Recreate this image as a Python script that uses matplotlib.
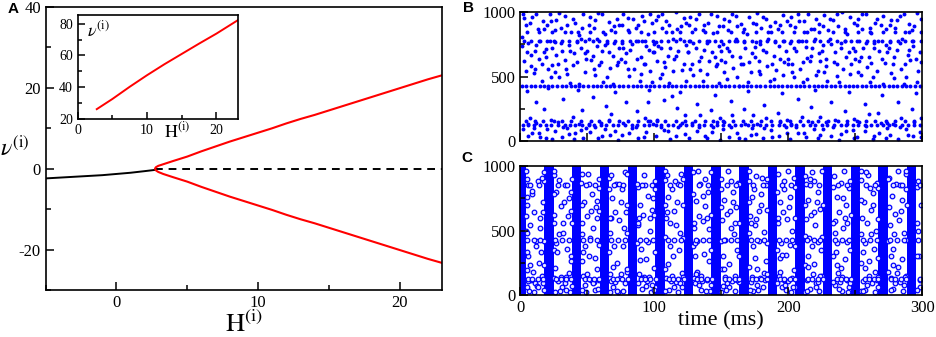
import numpy as np
import matplotlib
matplotlib.use('Agg')
import matplotlib.pyplot as plt
from matplotlib.ticker import MultipleLocator

plt.rcParams['font.family'] = ['Liberation Serif', 'DejaVu Serif']
plt.rcParams['mathtext.fontset'] = 'stix'
plt.rcParams['axes.unicode_minus'] = False

## PANEL A: bifurcation diagram
H_stable = [-5, -3, -1, 0, 1, 2, 2.72]
v_stable = [-2.4, -2.0, -1.6, -1.3, -1.0, -0.6, -0.3]
H_unstable = [2.72, 23]
v_unstable = [0, 0]
# red branch, lower half (read right to left) then upper half
H_lower = [23, 22, 21, 20, 19, 18, 17, 16, 15, 14, 13, 12, 11, 10, 9, 8, 7, 6, 5, 4, 3.3, 2.95, 2.78, 2.72]
v_lower = [-23.3, -22.3, -21.2, -20.1, -19.0, -17.9, -16.8, -15.7, -14.6, -13.5, -12.5, -11.4, -10.2,
           -9.1, -8.0, -6.9, -5.7, -4.5, -3.2, -2.1, -1.3, -0.8, -0.4, 0.0]
H_upper = [2.78, 2.95, 3.3, 4, 5, 6, 7, 8, 9, 10, 11, 12, 13, 14, 15, 16, 17, 18, 19, 20, 21, 22, 23]
v_upper = [0.35, 0.7, 1.1, 1.9, 3.0, 4.3, 5.5, 6.7, 7.8, 8.9, 10.0, 11.2, 12.3, 13.3, 14.4, 15.5, 16.6,
           17.7, 18.8, 19.9, 21.0, 22.1, 23.1]

# inset: rate vs H
H_inset = [2.75, 5, 7.5, 10, 12.5, 15, 17.5, 20, 23.1]
nu_inset = [26.2, 32.6, 40.3, 47.6, 54.5, 61.0, 67.5, 73.8, 82.3]

## PANEL B: asynchronous raster (time ms, neuron index)
row_425 = [1.5, 4.5, 8, 11, 14.5, 18, 21, 24, 27.5, 31, 34, 37.5, 41, 44, 47, 50.5, 54, 57, 60.5, 64, 67,
           70, 73.5, 77, 80, 84, 87, 90, 93.5, 97, 100, 103.5, 107, 110, 113, 116.5, 120, 123, 126.5, 130,
           133, 136, 139.5, 143, 146, 150, 153, 156, 159.5, 163, 166, 169, 172.5, 176, 179, 182.5, 186,
           189, 192, 195.5, 199, 202, 206, 209, 212, 215.5, 219, 222, 225, 228.5, 232, 235, 238.5, 242,
           245, 248, 251.5, 255, 258, 262, 265, 268, 271.5, 275, 278, 281, 284.5, 288, 291, 294.5, 298]
row_121 = [2, 6, 10, 15, 19, 23, 28, 33, 37, 41, 46, 51, 55, 60, 64, 69, 73, 78, 83, 87, 92, 96, 101,
           105, 110, 114, 119, 124, 128, 133, 137, 142, 147, 151, 156, 160, 165, 170, 174, 179, 183, 188,
           193, 197, 202, 206, 211, 216, 220, 225, 229, 234, 239, 243, 248, 252, 257, 262, 266, 271, 275,
           280, 285, 289, 294, 298]
row_152 = [4, 11, 17, 25, 31, 38, 45, 53, 59, 66, 74, 80, 88, 95, 102, 108, 116, 123, 130, 138, 144,
           151, 159, 166, 172, 180, 187, 194, 201, 209, 215, 222, 230, 237, 244, 251, 258, 265, 273, 280,
           287, 294]
row_775 = [3, 8, 14, 20, 25, 31, 36, 42, 48, 54, 59, 65, 71, 76, 82, 88, 93, 99, 105, 110, 116, 122,
           127, 133, 139, 145, 150, 156, 162, 167, 173, 179, 184, 190, 196, 202, 207, 213, 219, 224, 230,
           236, 242, 247, 253, 259, 264, 270, 276, 282, 287, 293, 299]
row_845 = [5, 14, 24, 33, 43, 52, 62, 71, 81, 90, 100, 109, 119, 128, 138, 147, 157, 166, 176, 185, 195,
           204, 214, 223, 233, 242, 252, 261, 271, 280, 290, 299]
scatter_b = [
    (2, 985), (9, 960), (17, 930), (22, 990), (4, 900), (13, 870), (20, 905), (1, 735), (6, 760), (11, 700),
    (15, 780), (19, 650), (24, 720), (3, 620), (8, 580), (14, 640), (21, 560), (10, 530), (16, 470), (23, 500),
    (5, 390), (12, 300), (18, 250), (7, 180), (2, 90), (9, 60), (15, 30), (20, 95), (24, 15), (12, 140), (6, 40),
    (27, 940), (33, 975), (41, 915), (47, 990), (30, 880), (38, 850), (44, 820), (26, 770), (31, 700), (36, 745),
    (40, 680), (45, 790), (49, 640), (28, 600), (34, 560), (42, 610), (48, 540), (29, 500), (37, 450), (43, 395),
    (32, 330), (46, 240), (39, 190), (26, 80), (31, 30), (35, 100), (41, 60), (47, 20), (44, 135),
    (52, 960), (58, 995), (66, 925), (72, 950), (55, 875), (63, 830), (70, 890), (51, 790), (57, 740), (61, 700),
    (65, 765), (69, 660), (74, 720), (53, 630), (59, 590), (67, 570), (73, 610), (56, 510), (62, 460), (71, 380),
    (54, 340), (64, 270), (68, 210), (52, 70), (58, 25), (63, 95), (67, 45), (73, 10), (60, 140),
    (77, 990), (84, 945), (91, 970), (98, 915), (80, 860), (88, 900), (95, 835), (76, 760), (82, 705), (86, 780),
    (90, 650), (94, 735), (99, 690), (78, 615), (85, 560), (92, 600), (97, 545), (81, 505), (89, 470), (96, 400),
    (79, 300), (87, 230), (93, 175), (76, 50), (83, 100), (88, 20), (94, 70), (99, 130),
    (103, 975), (109, 930), (116, 1000), (122, 955), (106, 880), (113, 845), (120, 895), (101, 770), (105, 720),
    (110, 660), (114, 790), (118, 700), (124, 745), (102, 620), (108, 575), (115, 640), (121, 550), (104, 490),
    (111, 450), (119, 380), (107, 320), (117, 260), (123, 200), (101, 35), (107, 85), (112, 15), (118, 105), (123, 55),
    (127, 960), (133, 990), (140, 920), (147, 970), (130, 870), (137, 900), (144, 840), (126, 780), (131, 725),
    (135, 650), (139, 760), (143, 690), (148, 735), (128, 600), (134, 555), (141, 625), (146, 580), (129, 510),
    (136, 470), (145, 360), (132, 290), (142, 240), (149, 180), (126, 25), (132, 75), (138, 40), (144, 110), (149, 10),
    (152, 945), (158, 985), (165, 910), (171, 960), (155, 860), (162, 890), (169, 830), (151, 755), (156, 700),
    (160, 775), (164, 650), (168, 725), (173, 680), (153, 615), (159, 570), (166, 600), (172, 540), (154, 480),
    (163, 430), (170, 390), (157, 310), (167, 250), (174, 200), (151, 90), (156, 30), (162, 60), (168, 15), (173, 100),
    (177, 995), (183, 950), (190, 925), (196, 980), (180, 875), (187, 845), (194, 900), (176, 770), (181, 710),
    (185, 790), (189, 660), (193, 740), (198, 700), (178, 625), (184, 580), (191, 550), (197, 610), (179, 520),
    (186, 465), (195, 370), (182, 280), (192, 220), (199, 160), (176, 55), (181, 20), (187, 85), (193, 40), (198, 110),
    (202, 965), (208, 930), (215, 990), (221, 950), (205, 885), (212, 850), (219, 870), (201, 760), (206, 700),
    (210, 780), (214, 645), (218, 720), (223, 685), (203, 600), (209, 560), (216, 620), (222, 545), (204, 500),
    (211, 455), (220, 395), (207, 330), (217, 265), (224, 185), (201, 15), (207, 65), (213, 30), (219, 95), (224, 45),
    (227, 980), (233, 940), (240, 1000), (246, 960), (230, 860), (237, 895), (244, 830), (226, 745), (231, 790),
    (235, 690), (239, 760), (243, 650), (248, 720), (228, 580), (234, 610), (241, 560), (247, 595), (229, 470),
    (236, 505), (245, 380), (232, 300), (242, 230), (249, 170), (226, 90), (232, 40), (238, 10), (243, 75), (249, 25),
    (252, 950), (258, 985), (265, 920), (271, 975), (255, 870), (262, 840), (269, 900), (251, 780), (256, 720),
    (260, 650), (264, 765), (268, 700), (273, 745), (253, 620), (259, 575), (266, 545), (272, 605), (254, 510),
    (261, 460), (270, 355), (257, 290), (267, 220), (274, 140), (251, 30), (257, 80), (263, 15), (268, 60), (274, 100),
    (277, 940), (283, 970), (290, 910), (296, 995), (280, 880), (287, 850), (294, 890), (276, 770), (281, 705),
    (285, 790), (289, 665), (293, 735), (298, 690), (278, 600), (284, 560), (291, 630), (297, 545), (279, 490),
    (286, 440), (295, 370), (282, 300), (292, 250), (299, 180), (276, 45), (282, 15), (288, 90), (293, 35), (298, 70),
]
scatter_b2 = [
    (3, 955), (7, 915), (12, 990), (18, 870), (23, 935), (1, 810), (5, 690), (8, 665), (12, 745), (16, 600),
    (19, 715), (22, 780), (24, 590), (4, 545), (11, 560), (18, 690), (21, 410), (6, 130), (10, 100), (14, 65),
    (19, 20), (23, 160),
    (26, 860), (29, 995), (35, 905), (39, 945), (46, 880), (27, 665), (30, 760), (33, 630), (37, 700), (39, 590),
    (42, 770), (45, 720), (48, 680), (26, 540), (35, 520), (44, 440), (28, 150), (32, 105), (36, 55), (40, 15),
    (45, 85), (49, 100),
    (51, 905), (56, 940), (61, 985), (68, 860), (74, 905), (50, 700), (54, 660), (57, 790), (60, 610), (63, 745),
    (66, 690), (70, 760), (72, 590), (75, 640), (55, 560), (65, 500), (69, 440), (51, 130), (56, 105), (61, 40),
    (66, 160), (71, 75),
    (76, 900), (80, 955), (86, 880), (92, 930), (97, 985), (77, 720), (79, 680), (83, 750), (87, 640), (91, 780),
    (93, 600), (96, 710), (100, 750), (80, 560), (90, 520), (98, 455), (95, 300), (77, 140), (81, 60), (86, 110),
    (92, 30), (97, 155),
    (101, 940), (106, 990), (111, 900), (117, 870), (124, 920), (100, 690), (103, 740), (107, 610), (112, 720),
    (116, 660), (119, 790), (122, 600), (125, 690), (106, 520), (114, 545), (124, 470), (113, 350), (102, 160),
    (105, 110), (110, 75), (116, 35), (121, 140),
    (126, 900), (131, 945), (136, 860), (142, 985), (148, 890), (125, 690), (129, 760), (133, 620), (137, 710),
    (141, 780), (145, 650), (147, 600), (150, 700), (127, 560), (139, 520), (148, 450), (134, 200), (128, 140),
    (133, 105), (139, 20), (143, 70), (147, 145),
    (151, 890), (156, 930), (161, 975), (167, 870), (174, 920), (150, 630), (154, 720), (158, 660), (161, 790),
    (165, 595), (167, 770), (171, 610), (175, 730), (152, 540), (162, 500), (170, 460), (158, 200), (152, 150),
    (157, 110), (163, 25), (168, 130), (172, 50),
    (176, 910), (181, 960), (186, 895), (192, 870), (199, 935), (175, 650), (179, 750), (183, 690), (188, 600),
    (190, 770), (194, 640), (197, 780), (200, 600), (178, 545), (189, 480), (196, 510), (183, 180), (177, 130),
    (182, 100), (188, 30), (194, 145), (199, 60),
    (201, 900), (207, 985), (212, 930), (217, 870), (223, 910), (200, 640), (204, 720), (208, 780), (211, 610),
    (213, 730), (217, 660), (220, 790), (224, 620), (203, 540), (214, 480), (221, 510), (210, 190), (202, 130),
    (206, 105), (212, 60), (218, 150), (222, 20),
    (226, 890), (231, 945), (236, 985), (242, 870), (249, 915), (225, 700), (228, 640), (232, 750), (236, 600),
    (239, 720), (242, 780), (245, 690), (250, 640), (227, 540), (238, 460), (246, 520), (235, 160), (228, 150),
    (233, 110), (239, 55), (244, 135), (248, 85),
    (251, 905), (255, 990), (261, 880), (266, 950), (273, 870), (250, 700), (254, 650), (258, 760), (262, 605),
    (264, 720), (267, 780), (270, 640), (274, 690), (252, 540), (263, 500), (271, 445), (260, 210), (253, 150),
    (258, 115), (264, 40), (269, 140), (273, 20),
    (276, 905), (281, 940), (286, 985), (292, 865), (299, 950), (275, 720), (279, 650), (283, 760), (287, 600),
    (290, 710), (292, 780), (295, 640), (299, 610), (277, 530), (288, 495), (296, 460), (284, 180), (278, 130),
    (283, 110), (289, 50), (294, 150), (299, 30),
]

## PANEL C: synchronous raster
burst_t = [1, 21.4, 42, 62.7, 83.6, 104.2, 125.4, 146, 166.9, 188, 208.7, 229.3, 250.2, 270.8, 292]
rowc_425 = [5, 10, 15, 26, 31, 36, 47, 52, 57, 68, 73, 78, 89, 94, 99, 110, 115, 120, 131, 136, 141,
            152, 157, 162, 172, 177, 182, 193, 198, 203, 214, 219, 224, 235, 240, 245, 256, 261, 266,
            276, 281, 286, 297]
rowc_122 = [6, 9, 13, 17, 27, 30, 34, 38, 48, 51, 55, 59, 69, 72, 76, 80, 90, 93, 97, 101, 111, 114, 118,
            122, 132, 135, 139, 143, 153, 156, 160, 163, 173, 176, 180, 184, 194, 197, 201, 205, 215, 218,
            222, 226, 236, 239, 243, 247, 257, 260, 264, 267, 277, 280, 284, 288, 298]
rowc_853 = [7, 14, 28, 35, 49, 56, 70, 77, 91, 98, 112, 119, 133, 140, 154, 161, 174, 181, 195, 202,
            216, 223, 237, 244, 258, 265, 278, 285, 298]
scatter_c = [
    (4.5, 960), (5, 700), (5.5, 300), (6, 850), (7, 540), (8, 120), (9, 780), (10, 640), (11, 90), (12, 420),
    (13, 880), (14, 250), (15, 600), (16, 150), (17, 720), (17.5, 40), (18, 950), (6.5, 30), (9.5, 180),
    (12.5, 70), (15.5, 330), (4, 500),
    (25, 930), (25.5, 620), (26, 210), (27, 800), (28, 110), (29, 470), (30, 690), (31, 60), (32, 560),
    (33, 850), (34, 140), (35, 360), (36, 750), (37, 20), (38, 650), (38.5, 900), (26.5, 400), (29.5, 30),
    (33.5, 95), (36.5, 170),
    (45.5, 870), (46, 560), (46.5, 150), (47.5, 720), (48.5, 80), (49.5, 610), (50.5, 940), (51.5, 300),
    (52.5, 120), (53.5, 780), (54.5, 520), (55.5, 40), (56.5, 680), (57.5, 200), (58.5, 830), (49, 20),
    (52, 440), (55, 100), (57, 600), (47, 330),
    (66.5, 910), (67, 480), (67.5, 110), (68.5, 750), (69.5, 60), (70.5, 640), (71.5, 860), (72.5, 250),
    (73.5, 580), (74.5, 130), (75.5, 720), (76.5, 30), (77.5, 520), (78.5, 950), (79.5, 180), (70, 380),
    (73, 25), (76, 820), (68, 600), (78, 90),
    (87.5, 840), (88, 540), (88.5, 160), (89.5, 700), (90.5, 50), (91.5, 620), (92.5, 930), (93.5, 280),
    (94.5, 110), (95.5, 770), (96.5, 500), (97.5, 20), (98.5, 660), (99.5, 210), (100.5, 880), (90, 360),
    (94, 70), (97, 600), (92, 140), (99, 750),
    (108, 890), (108.5, 600), (109, 130), (110, 760), (111, 40), (112, 560), (113, 820), (114, 300),
    (115, 650), (116, 100), (117, 720), (118, 20), (119, 480), (120, 940), (121, 170), (111.5, 380),
    (114.5, 60), (117.5, 860), (109.5, 640), (119.5, 90),
    (129, 950), (129.5, 520), (130, 90), (131, 730), (132, 180), (133, 610), (134, 860), (135, 40),
    (136, 570), (137, 320), (138, 690), (139, 120), (140, 800), (141, 260), (141.5, 30), (131.5, 420),
    (134.5, 150), (137.5, 900), (130.5, 300), (139.5, 600),
    (150, 900), (150.5, 580), (151, 70), (152, 740), (153, 140), (154, 630), (155, 960), (156, 240),
    (157, 520), (158, 110), (159, 800), (160, 30), (161, 680), (162, 350), (162.5, 870), (152.5, 430),
    (155.5, 60), (158.5, 720), (151.5, 300), (160.5, 150),
    (171, 880), (171.5, 610), (172, 100), (173, 760), (174, 30), (175, 540), (176, 920), (177, 200),
    (178, 650), (179, 130), (180, 780), (181, 60), (182, 490), (183, 850), (183.5, 260), (173.5, 380),
    (176.5, 80), (179.5, 700), (172.5, 560), (181.5, 170),
    (192, 940), (192.5, 560), (193, 150), (194, 720), (195, 60), (196, 640), (197, 880), (198, 310),
    (199, 590), (200, 110), (201, 760), (202, 20), (203, 500), (204, 910), (204.5, 190), (194.5, 400),
    (197.5, 80), (200.5, 680), (193.5, 290), (202.5, 130),
    (213, 860), (213.5, 590), (214, 120), (215, 740), (216, 50), (217, 620), (218, 950), (219, 240),
    (220, 540), (221, 90), (222, 800), (223, 30), (224, 670), (224.5, 350), (215.5, 440), (218.5, 160),
    (221.5, 720), (214.5, 300), (219.5, 880), (222.5, 100),
    (234, 920), (234.5, 570), (235, 80), (236, 760), (237, 170), (238, 640), (239, 870), (240, 30),
    (241, 520), (242, 280), (243, 700), (244, 120), (245, 830), (245.5, 60), (236.5, 400), (239.5, 210),
    (242.5, 600), (235.5, 330), (240.5, 750), (244.5, 20),
    (254.5, 890), (255, 600), (255.5, 110), (256.5, 720), (257.5, 40), (258.5, 560), (259.5, 930),
    (260.5, 260), (261.5, 660), (262.5, 90), (263.5, 790), (264.5, 20), (265.5, 500), (266.5, 870),
    (257, 400), (260, 150), (263, 700), (256, 330), (265, 180), (267, 60),
    (275.5, 910), (276, 540), (276.5, 130), (277.5, 770), (278.5, 50), (279.5, 630), (280.5, 860),
    (281.5, 220), (282.5, 580), (283.5, 100), (284.5, 740), (285.5, 30), (286.5, 480), (287.5, 940),
    (278, 360), (281, 170), (284, 650), (277, 300), (286, 80), (288, 820),
    (296.5, 880), (297, 500), (298, 120), (299, 700), (297.5, 300), (298.5, 60),
]
# spikes hugging the edges of each burst
edge_c = [
    (4.8, 900), (5.2, 760), (4.6, 610), (5, 480), (4.7, 330), (5.3, 190), (4.9, 60),
    (17.6, 880), (17.3, 640), (17.8, 420), (17.5, 230), (17.2, 90), (25.2, 960), (25.5, 780), (25.0, 560),
    (25.4, 350), (25.1, 130), (25.6, 20),
    (38.1, 800), (38.3, 560), (37.9, 300), (38.2, 70), (45.8, 940), (46.1, 700), (45.9, 470), (46.2, 260),
    (45.7, 40),
    (58.8, 900), (58.6, 650), (59, 390), (58.9, 120), (66.5, 820), (66.8, 600), (66.4, 330), (66.9, 160),
    (66.6, 20),
    (79.7, 940), (79.9, 700), (79.6, 480), (79.8, 200), (87.4, 860), (87.7, 560), (87.3, 400), (87.6, 90),
    (100.3, 820), (100.1, 620), (100.4, 330), (100.2, 60), (108, 960), (108.3, 700), (107.9, 450),
    (108.2, 200), (108.1, 30),
    (121.5, 900), (121.3, 700), (121.6, 440), (121.4, 140), (129.2, 780), (129.5, 560), (129.1, 380),
    (129.4, 130),
    (142.1, 950), (142.3, 620), (142, 350), (142.2, 80), (149.8, 820), (150.1, 680), (149.9, 420),
    (150.2, 200), (149.7, 20),
    (163, 860), (163.2, 560), (162.9, 300), (163.1, 100), (170.7, 960), (171, 720), (170.8, 480),
    (170.6, 220), (171.1, 40),
    (184.1, 900), (184.3, 660), (184, 400), (184.2, 160), (191.8, 800), (192.1, 600), (191.9, 350),
    (191.7, 90),
    (204.8, 840), (205, 600), (204.7, 380), (204.9, 60), (212.5, 920), (212.8, 700), (212.6, 460),
    (212.4, 230), (212.7, 20),
    (225.4, 960), (225.6, 700), (225.3, 450), (225.5, 150), (233.1, 840), (233.4, 560), (233.2, 300),
    (233, 100),
    (246.3, 880), (246.5, 620), (246.2, 350), (246.4, 90), (254, 960), (254.3, 740), (254.1, 470),
    (253.9, 250), (254.2, 30),
    (266.9, 830), (267.1, 590), (266.8, 290), (267, 140), (274.6, 900), (274.9, 680), (274.7, 420),
    (274.5, 180),
    (288.1, 960), (288.3, 700), (288, 430), (288.2, 150), (295.8, 840), (296.1, 560), (295.9, 300),
    (295.7, 40),
]
extra_c = [
    (7.5, 230), (11.5, 380), (14.5, 520), (8.5, 810), (13.5, 60), (16.5, 910), (10.5, 20), (6, 110),
    (27.5, 330), (30.5, 140), (32.5, 720), (35.5, 610), (28.5, 890), (34, 40), (37.5, 260), (31.5, 480),
    (48, 380), (50, 160), (53, 650), (56, 290), (58, 50), (51, 860), (54, 90), (57.5, 730),
    (69, 220), (71, 100), (74, 860), (77, 380), (79, 640), (72, 30), (75, 160), (68, 930),
    (89, 270), (91, 130), (95, 410), (98, 80), (93, 850), (96, 140), (99.5, 40), (88.5, 600),
    (110.5, 240), (112.5, 110), (115.5, 880), (118.5, 350), (113.5, 150), (116.5, 540), (120.5, 60), (109.5, 930),
    (131, 160), (133.5, 80), (136.5, 770), (138.5, 30), (140.5, 510), (132.5, 960), (135.5, 110), (130, 400),
    (152, 200), (154.5, 90), (157.5, 880), (159.5, 470), (161.5, 120), (153.5, 40), (156.5, 650), (160, 560),
    (173, 140), (175.5, 290), (177.5, 40), (180.5, 910), (182.5, 120), (174.5, 820), (178.5, 420), (176, 590),
    (194, 180), (196.5, 820), (198.5, 40), (201.5, 390), (203.5, 60), (195.5, 310), (199.5, 960), (197, 120),
    (215, 220), (217.5, 380), (220.5, 60), (223.5, 150), (216.5, 900), (219, 640), (222, 410), (214, 30),
    (236, 230), (238.5, 100), (241.5, 960), (243.5, 410), (237.5, 50), (240, 140), (244, 560), (235, 480),
    (257, 210), (259, 80), (261, 830), (264, 360), (266, 120), (258, 950), (262, 470), (256, 30),
    (278, 230), (280, 90), (282, 960), (285, 280), (287, 140), (279, 470), (283, 850), (277, 40),
]

BLUE = '#0000ff'

fig = plt.figure(figsize=(9.37, 3.37), dpi=100)


def style_axes(ax, lab_size):
    for s in ax.spines.values():
        s.set_linewidth(1.2)
    ax.tick_params(which='both', direction='in', top=False, right=False, labelsize=lab_size, width=1.1)
    ax.tick_params(which='major', length=6)
    ax.tick_params(which='minor', length=3.5)


# --- panel A
axA = fig.add_axes([0.0488, 0.1395, 0.4229, 0.8398])
axA.plot(H_stable, v_stable, 'k', lw=1.4)
axA.plot(H_unstable, v_unstable, 'k--', lw=1.4, dashes=(4, 3))
axA.plot(H_lower + H_upper, v_lower + v_upper, color='red', lw=1.5)
axA.set_xlim(-5, 23)
axA.set_ylim(-30, 40)
axA.xaxis.set_major_locator(MultipleLocator(10))
axA.xaxis.set_minor_locator(MultipleLocator(5))
axA.yaxis.set_major_locator(MultipleLocator(20))
axA.yaxis.set_minor_locator(MultipleLocator(10))
style_axes(axA, 12)
axA.set_xlabel(r'$\mathrm{H}^{(\mathrm{i})}$', fontsize=19, va='top')
axA.xaxis.set_label_coords(0.5, -0.075)
axA.set_ylabel(r'$\nu^{(\mathrm{i})}$', fontsize=17, rotation=0, va='center', ha='center')
axA.yaxis.set_label_coords(-0.077, 0.5)

# inset
axI = fig.add_axes([0.0829, 0.6469, 0.1711, 0.3095])
axI.plot(H_inset, nu_inset, color='red', lw=1.4)
axI.set_xlim(0, 23.1)
axI.set_ylim(20, 85.7)
axI.xaxis.set_major_locator(MultipleLocator(10))
axI.xaxis.set_minor_locator(MultipleLocator(5))
axI.yaxis.set_major_locator(MultipleLocator(20))
axI.yaxis.set_minor_locator(MultipleLocator(10))
style_axes(axI, 10)
axI.tick_params(which='major', length=5)
axI.tick_params(which='minor', length=3)
axI.set_xlabel(r'$\mathrm{H}^{(\mathrm{i})}$', fontsize=13, va='top')
axI.xaxis.set_label_coords(0.62, -0.02)
axI.text(0.13, 0.85, r'$\nu^{(\mathrm{i})}$', transform=axI.transAxes, fontsize=13, ha='center', va='center')

# --- panel B
axB = fig.add_axes([0.5553, 0.5816, 0.429, 0.3819])
pts_b = scatter_b + scatter_b2
bt = [p[0] for p in pts_b] + row_425 + row_121 + row_152 + row_775 + row_845
bn = ([p[1] for p in pts_b] + [425] * len(row_425) + [121] * len(row_121) + [152] * len(row_152)
      + [775] * len(row_775) + [845] * len(row_845))
axB.scatter(bt, bn, s=8, color=BLUE, linewidths=0)
axB.set_xlim(0, 300)
axB.set_ylim(0, 1000)
axB.xaxis.set_major_locator(MultipleLocator(50))
axB.yaxis.set_major_locator(MultipleLocator(500))
axB.yaxis.set_minor_locator(MultipleLocator(250))
style_axes(axB, 12)
axB.tick_params(axis='x', labelbottom=False)

# --- panel C
axC = fig.add_axes([0.5553, 0.1246, 0.429, 0.3828])
axC.bar(burst_t, [1000] * len(burst_t), width=7, bottom=0, color=BLUE, linewidth=0)
pts_c = scatter_c + edge_c + extra_c
ct = [p[0] for p in pts_c] + rowc_425 + rowc_122 + rowc_853
cn = ([p[1] for p in pts_c] + [425] * len(rowc_425) + [122] * len(rowc_122) + [853] * len(rowc_853))
axC.scatter(ct, cn, s=11, facecolors='#e6e6ff', edgecolors=BLUE, linewidths=0.9)
axC.set_xlim(0, 300)
axC.set_ylim(0, 1000)
axC.xaxis.set_major_locator(MultipleLocator(100))
axC.xaxis.set_minor_locator(MultipleLocator(50))
axC.yaxis.set_major_locator(MultipleLocator(500))
axC.yaxis.set_minor_locator(MultipleLocator(250))
style_axes(axC, 12)
axC.set_xlabel('time (ms)', fontsize=16, va='top')
axC.xaxis.set_label_coords(0.5, -0.125)

# panel letters
for lab, x, y in [('A', 0.014, 0.972), ('B', 0.4995, 0.975), ('C', 0.4985, 0.53)]:
    fig.text(x, y, lab, fontsize=11, fontweight='bold', family=['Liberation Sans', 'DejaVu Sans'],
             ha='center', va='center')

fig.savefig('out.png', dpi=100)
